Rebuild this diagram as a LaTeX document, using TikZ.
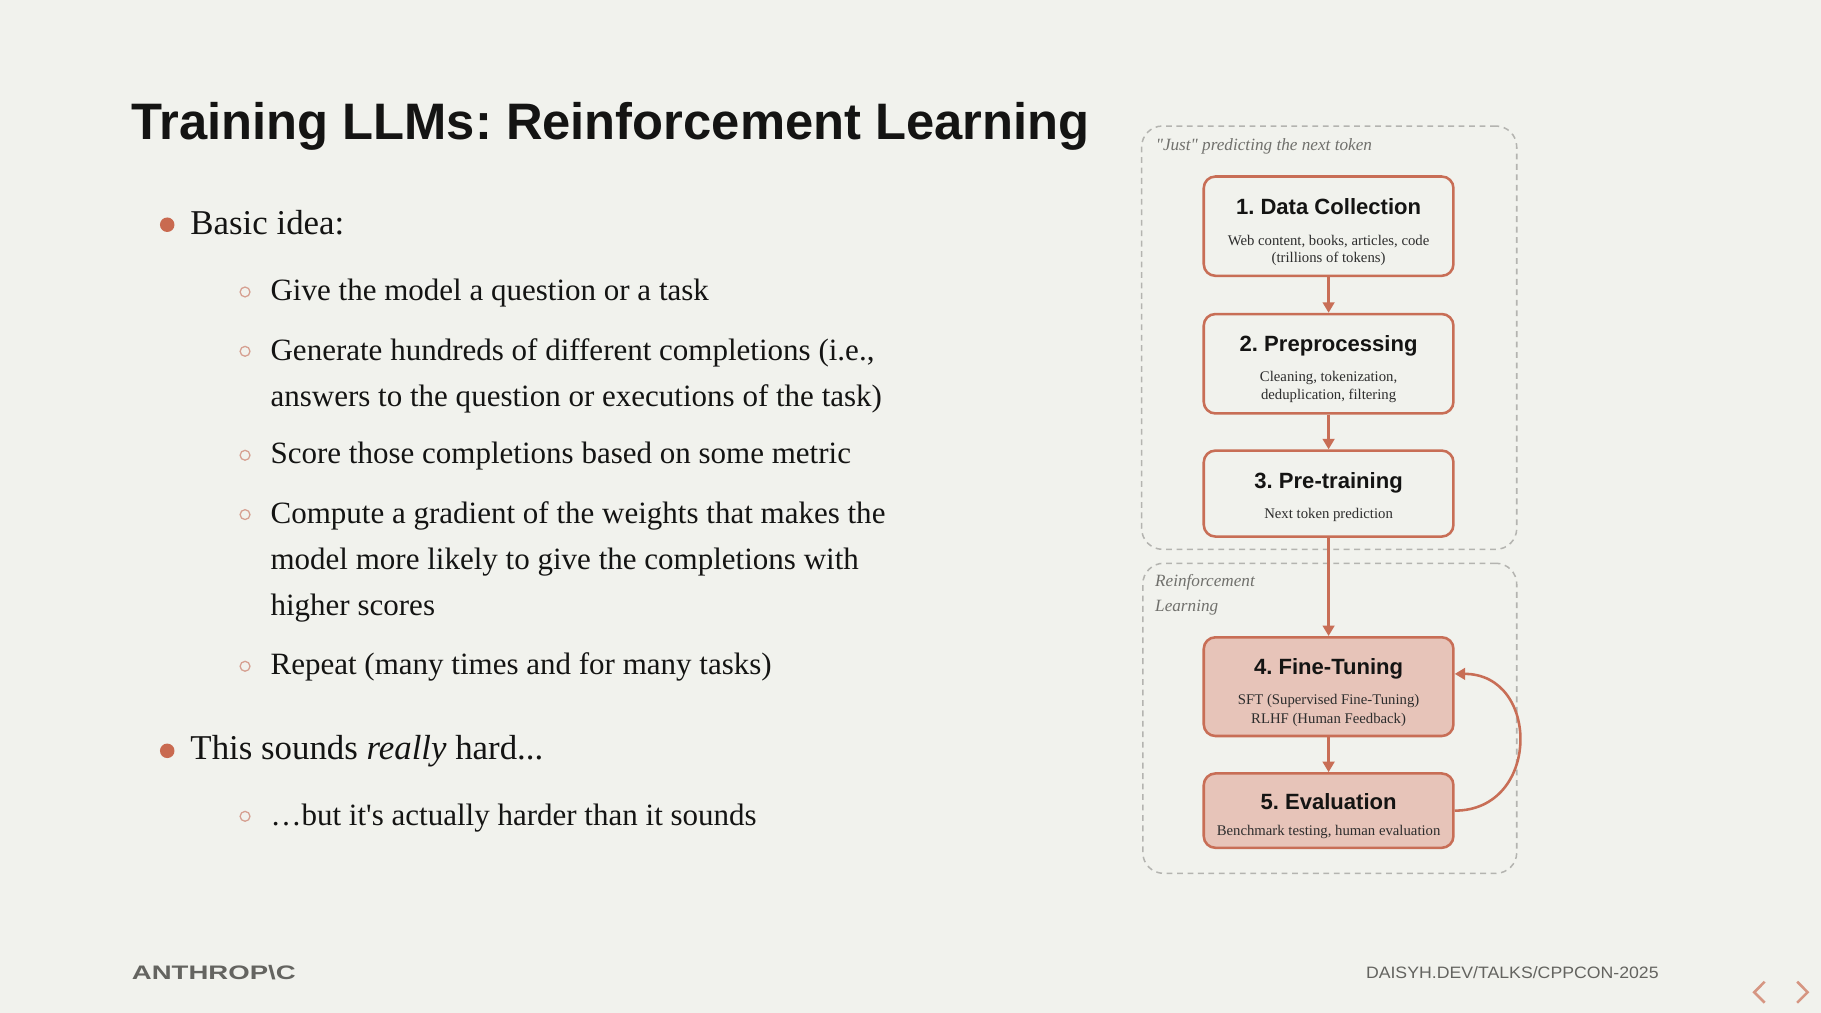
\documentclass[tikz,border=0pt]{standalone}
\usepackage{fontspec}
\setmainfont{Liberation Serif}
\setsansfont{Liberation Sans}
\usetikzlibrary{arrows.meta,calc}
\definecolor{bg}{RGB}{241,242,237}
\definecolor{ink}{RGB}{20,20,19}
\definecolor{accent}{RGB}{201,106,80}
\definecolor{boxline}{RGB}{200,110,86}
\definecolor{boxfill}{RGB}{231,196,185}
\definecolor{dashc}{RGB}{180,180,176}
\definecolor{labelc}{RGB}{112,112,108}
\definecolor{subc}{RGB}{45,45,45}
\definecolor{ringc}{RGB}{214,160,145}
\definecolor{footc}{RGB}{100,100,96}
\definecolor{navc}{RGB}{214,150,130}
\frenchspacing
\begin{document}
\begin{tikzpicture}[x=1pt,y=-1pt,
 txt/.style={anchor=base west, inner sep=0pt, outer sep=0pt, text=ink},
 lone/.style={txt, font=\fontsize{30}{36}\selectfont},
 ltwo/.style={txt, font=\fontsize{26.7}{32}\selectfont},
 dotb/.style={circle, fill=accent, inner sep=0pt, minimum size=12.5pt},
 ringb/.style={circle, draw=ringc, line width=1.1pt, inner sep=0pt, minimum size=8.5pt},
 stepbox/.style={draw=boxline, line width=2.2pt, rounded corners=10pt, minimum width=215pt, inner sep=0pt, fill=bg},
 rlbox/.style={stepbox, fill=boxfill},
 btitle/.style={anchor=base, inner sep=0pt, font=\sffamily\bfseries\fontsize{19}{22}\selectfont, text=ink},
 bsub/.style={anchor=base, inner sep=0pt, font=\fontsize{12.7}{15}\selectfont, text=subc},
 grp/.style={draw=dashc, line width=1.3pt, dash pattern=on 5pt off 4pt, rounded corners=18pt, inner sep=0pt},
 glabel/.style={anchor=base west, inner sep=0pt, font=\itshape\fontsize{14.8}{17}\selectfont, text=labelc},
 arr/.style={draw=boxline, line width=2.2pt, -{Triangle[length=9pt,width=10pt]}},
 foot/.style={anchor=base west, inner sep=0pt, text=footc},
]
\useasboundingbox (0,0) rectangle (1568,872);
\fill[bg] (0,0) rectangle (1568,872);

% title
\node[txt] (title) at (113,120.5) {\resizebox{825pt}{32pt}{\sffamily\bfseries Training LLMs: Reinforcement Learning}};

% bullets
\node[dotb] (d1) at (144,193.5) {};
\node[lone] (l1) at (164,201.5) {Basic idea:};
\node[ringb] (r1) at (211,251.4) {};
\node[ltwo] (l2) at (233,258.9) {Give the model a question or a task};
\node[ringb] (r2) at (211,302.5) {};
\node[ltwo] (l3) at (233,310) {Generate hundreds of different completions (i.e.,};
\node[ltwo] (l3b) at (233,350.2) {answers to the question or executions of the task)};
\node[ringb] (r3) at (211,392) {};
\node[ltwo] (l4) at (233,399.5) {Score those completions based on some metric};
\node[ringb] (r4) at (211,443.1) {};
\node[ltwo] (l5) at (233,450.6) {Compute a gradient of the weights that makes the};
\node[ltwo] (l5b) at (233,490.8) {model more likely to give the completions with};
\node[ltwo] (l5c) at (233,530.4) {higher scores};
\node[ringb] (r5) at (211,573.7) {};
\node[ltwo] (l6) at (233,581.2) {Repeat (many times and for many tasks)};
\node[dotb] (d2) at (144,646.5) {};
\node[lone] (l7) at (164,654.4) {This sounds \textit{really} hard...};
\node[ringb] (r6) at (211,702.9) {};
\node[ltwo] (l8) at (233,710.4) {…but it\textquotesingle s actually harder than it sounds};

% groups
\node[grp, minimum width=323pt, minimum height=364.5pt] (g1) at (1144.5,290.75) {};
\node[grp, minimum width=322pt, minimum height=267pt] (g2) at (1145,618.5) {};
\node[glabel] (gl1) at (995,129.5) {\textquotedbl Just\textquotedbl{} predicting the next token};
\node[glabel] (gl2a) at (994.5,505) {Reinforcement};
\node[glabel] (gl2b) at (994.5,526.7) {Learning};

% boxes
\node[stepbox, minimum height=85.5pt] (b1) at (1144,194.75) {};
\node[stepbox, minimum height=85.6pt] (b2) at (1144,313.2) {};
\node[stepbox, minimum height=74pt] (b3) at (1144,425) {};
\node[rlbox, minimum height=85pt] (b4) at (1144,591.25) {};
\node[rlbox, minimum height=64pt] (b5) at (1144,698) {};

\node[btitle] (t1) at (1144,184.3) {1. Data Collection};
\node[bsub] (s1a) at (1144,211) {Web content, books, articles, code};
\node[bsub] (s1b) at (1144,226) {(trillions of tokens)};
\node[btitle] (t2) at (1144,302.8) {2. Preprocessing};
\node[bsub] (s2a) at (1144,328.6) {Cleaning, tokenization,};
\node[bsub] (s2b) at (1144,344.4) {deduplication, filtering};
\node[btitle] (t3) at (1144,420.5) {3. Pre-training};
\node[bsub] (s3a) at (1144,446.3) {Next token prediction};
\node[btitle] (t4) at (1144,581.2) {4. Fine-Tuning};
\node[bsub] (s4a) at (1144,607) {SFT (Supervised Fine-Tuning)};
\node[bsub] (s4b) at (1144,622.8) {RLHF (Human Feedback)};
\node[btitle] (t5) at (1144,697.4) {5. Evaluation};
\node[bsub] (s5a) at (1144,719.8) {Benchmark testing, human evaluation};

% connectors
\draw[arr] (b1) -- (b2);
\draw[arr] (b2) -- (b3);
\draw[arr] (b3) -- (b4);
\draw[arr] (b4) -- (b5);
\coordinate (fin) at ($(b4.east)+(0,-11)$);
\draw[arr] (b5.east) .. controls +(74,0) and +(74,0) .. (fin);

% footer
\node[foot] (logo) at (113.4,843.2) {\resizebox{141pt}{12.2pt}{\sffamily\bfseries ANTHROP\textbackslash C}};
\node[foot] (url) at (1176,842.4) {\resizebox{252pt}{10.3pt}{\sffamily DAISYH.DEV/TALKS/CPPCON-2025}};
\draw[navc, line width=2.2pt] (1519.5,845.3) -- (1510.5,854.4) -- (1519.5,863.4);
\draw[navc, line width=2.2pt] (1547.5,845.3) -- (1556.5,854.4) -- (1547.5,863.4);
\end{tikzpicture}
\end{document}
